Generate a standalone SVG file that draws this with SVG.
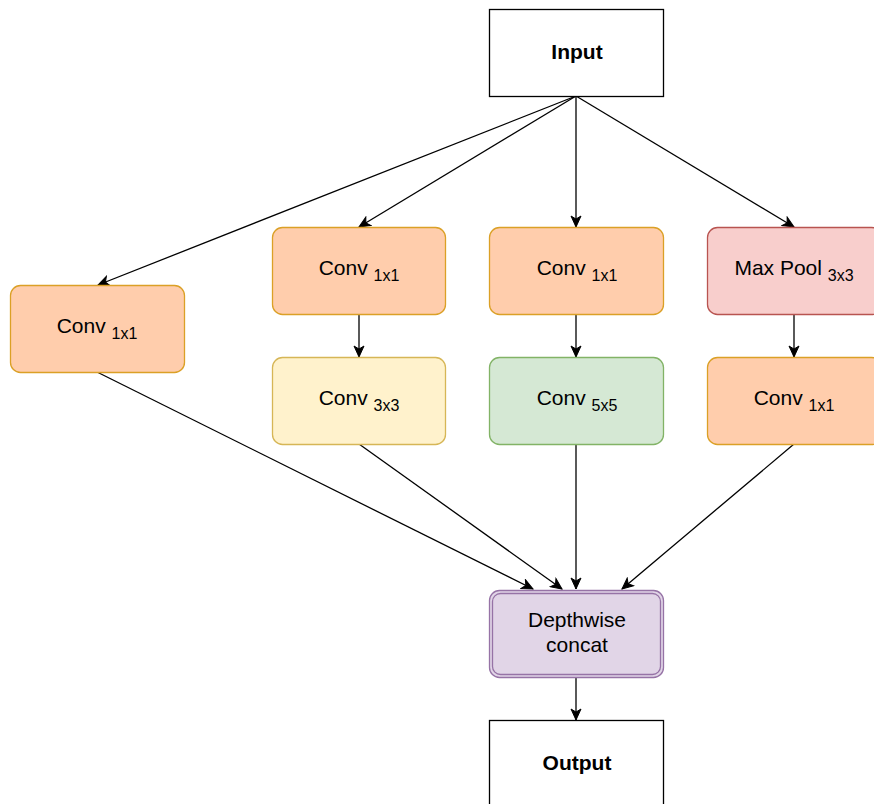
<svg xmlns="http://www.w3.org/2000/svg" width="874" height="804" viewBox="0 0 874 804">
<defs>
<marker id="arr" markerWidth="14" markerHeight="12" refX="12" refY="6" orient="auto" markerUnits="userSpaceOnUse">
<path d="M1,1 L12,6 L1,11 L4,6 Z" fill="#000" stroke="#000" stroke-width="1"/>
</marker>
</defs>
<style>
.t{font-family:"Liberation Sans",Arial,sans-serif;font-size:21px;fill:#000;text-anchor:middle}
.b{font-weight:bold}
.s{font-size:16px}
.plain{fill:#fff;stroke:#000;stroke-width:1.3}
.org{fill:#ffcdac;stroke:#dba026;stroke-width:1.3}
.yel{fill:#fff2cc;stroke:#d6b656;stroke-width:1.3}
.grn{fill:#d5e8d4;stroke:#82b366;stroke-width:1.3}
.red{fill:#f8cecc;stroke:#b85450;stroke-width:1.3}
.pur{fill:#e1d5e7;stroke:#9673a6;stroke-width:1.3}
.c{stroke:#000;stroke-width:1.3;fill:none;marker-end:url(#arr)}
</style>
<g id="connectors">
<line class="c" x1="576" y1="96" x2="98" y2="285"/>
<line class="c" x1="576" y1="96" x2="359" y2="227"/>
<line class="c" x1="576" y1="96" x2="576" y2="227"/>
<line class="c" x1="576" y1="96" x2="794" y2="227"/>
<line class="c" x1="359" y1="314" x2="359" y2="357"/>
<line class="c" x1="576" y1="314" x2="576" y2="357"/>
<line class="c" x1="794" y1="314" x2="794" y2="357"/>
<line class="c" x1="97" y1="372" x2="533" y2="589"/>
<line class="c" x1="359" y1="444" x2="562" y2="589"/>
<line class="c" x1="576" y1="444" x2="576" y2="589"/>
<line class="c" x1="794" y1="444" x2="622" y2="589"/>
<line class="c" x1="576" y1="677" x2="576" y2="720"/>
</g>
<g id="input">
<rect class="plain" x="489.5" y="9.5" width="174" height="87"/>
<text class="t b" x="577" y="59">Input</text>
</g>
<g id="conv-left">
<rect class="org" x="10.5" y="285.5" width="174" height="87" rx="10"/>
<text class="t" x="97" y="333">Conv <tspan class="s" dy="6">1x1</tspan></text>
</g>
<g id="conv-b2-1">
<rect class="org" x="272.5" y="227.5" width="173" height="87" rx="10"/>
<text class="t" x="359" y="275">Conv <tspan class="s" dy="6">1x1</tspan></text>
</g>
<g id="conv-b2-3">
<rect class="yel" x="272.5" y="357.5" width="173" height="87" rx="10"/>
<text class="t" x="359" y="405">Conv <tspan class="s" dy="6">3x3</tspan></text>
</g>
<g id="conv-b3-1">
<rect class="org" x="489.5" y="227.5" width="174" height="87" rx="10"/>
<text class="t" x="577" y="275">Conv <tspan class="s" dy="6">1x1</tspan></text>
</g>
<g id="conv-b3-5">
<rect class="grn" x="489.5" y="357.5" width="174" height="87" rx="10"/>
<text class="t" x="577" y="405">Conv <tspan class="s" dy="6">5x5</tspan></text>
</g>
<g id="maxpool">
<rect class="red" x="707.5" y="227.5" width="174" height="87" rx="10"/>
<text class="t" x="794" y="275">Max Pool <tspan class="s" dy="6">3x3</tspan></text>
</g>
<g id="conv-b4-1">
<rect class="org" x="707.5" y="357.5" width="174" height="87" rx="10"/>
<text class="t" x="794" y="405">Conv <tspan class="s" dy="6">1x1</tspan></text>
</g>
<g id="concat">
<rect class="pur" x="489.5" y="590.5" width="174" height="87" rx="10"/>
<rect x="492.5" y="593.5" width="168" height="81" rx="8" fill="none" stroke="#9673a6" stroke-width="1.3"/>
<text class="t" x="577" y="627">Depthwise</text>
<text class="t" x="577" y="652">concat</text>
</g>
<g id="output">
<rect class="plain" x="489.5" y="720.5" width="174" height="100"/>
<text class="t b" x="577" y="770">Output</text>
</g>
</svg>
